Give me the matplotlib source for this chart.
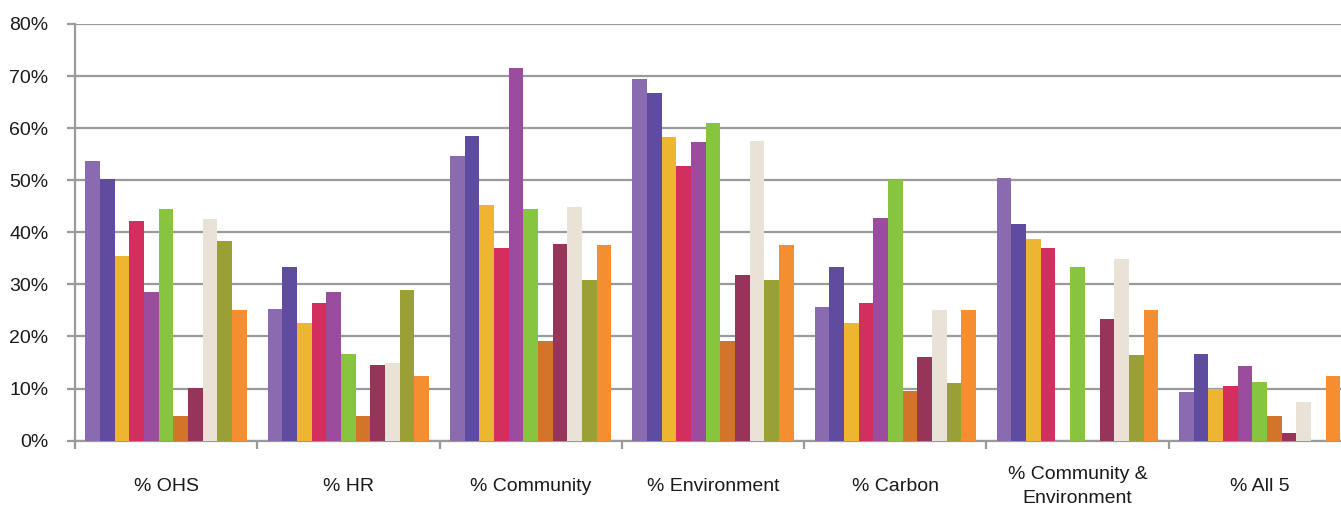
import matplotlib.pyplot as plt
import numpy as np

plt.rcParams['font.family'] = ['Liberation Sans', 'DejaVu Sans']

# Categories and series values (percent)
categories = ['% OHS', '% HR', '% Community', '% Environment', '% Carbon',
              '% Community &\nEnvironment', '% All 5']
ytick_labels = ['0%', '10%', '20%', '30%', '40%', '50%', '60%', '70%', '80%']

s1 = [53.7, 25.2, 54.7, 69.4, 25.7, 50.4, 9.3]
s2 = [50.2, 33.3, 58.5, 66.7, 33.3, 41.6, 16.6]
s3 = [35.4, 22.6, 45.2, 58.3, 22.6, 38.7, 10.0]
s4 = [42.1, 26.4, 36.9, 52.8, 26.4, 36.9, 10.5]
s5 = [28.5, 28.5, 71.5, 57.3, 42.7, 0.0, 14.3]
s6 = [44.5, 16.6, 44.5, 61.0, 50.1, 33.3, 11.3]
s7 = [4.7, 4.7, 19.1, 19.1, 9.6, 0.0, 4.8]
s8 = [10.2, 14.5, 37.8, 31.8, 16.0, 23.4, 1.5]
s9 = [42.6, 15.0, 44.9, 57.5, 25.0, 34.9, 7.4]
s10 = [38.3, 29.0, 30.9, 30.9, 11.0, 16.4, 0.0]
s11 = [25.0, 12.4, 37.6, 37.6, 25.0, 25.0, 12.4]
series = [s1, s2, s3, s4, s5, s6, s7, s8, s9, s10, s11]

colors = ['#8A6BAF', '#5F4B9F', '#EDB530', '#D22F5E', '#9C4C9E', '#87C440',
          '#D2742A', '#963559', '#E9E2D7', '#9AA036', '#F58E30']

fig = plt.figure(figsize=(13.41, 5.07), dpi=100)
ax = fig.add_axes([0.0559, 0.1308, 0.9515, 0.822])

n = len(series)
bar_w = 0.0805
x = np.arange(len(categories)) + 0.5
offsets = (np.arange(n) - (n - 1) / 2) * bar_w

for vals, off, c in zip(series, offsets, colors):
    ax.bar(x + off, vals, width=bar_w, color=c, linewidth=0, zorder=3)

ax.set_xlim(0, len(categories))
ax.set_ylim(0, 80)

# horizontal grid
ax.set_yticks(np.arange(0, 81, 10))
ax.set_yticklabels(ytick_labels, fontsize=14, color='#1a1a1a')
ax.yaxis.grid(True, color='#9a9a9a', linewidth=1.6, zorder=0)
ax.tick_params(axis='y', length=6, width=1.6, color='#9a9a9a', pad=13)

# group boundary ticks and centred labels
ax.set_xticks(np.arange(0, len(categories) + 1))
ax.set_xticklabels([])
ax.tick_params(axis='x', which='major', length=6, width=1.6, color='#9a9a9a')
ax.set_xticks(x, minor=True)
ax.set_xticklabels(categories, minor=True, fontsize=14, color='#1a1a1a',
                   linespacing=1.55, va='center')
ax.tick_params(axis='x', which='minor', length=0, pad=33)

for side in ['top', 'right']:
    ax.spines[side].set_visible(False)
for side in ['left', 'bottom']:
    ax.spines[side].set_color('#9a9a9a')
    ax.spines[side].set_linewidth(1.6)

plt.savefig('out.png', dpi=100)
